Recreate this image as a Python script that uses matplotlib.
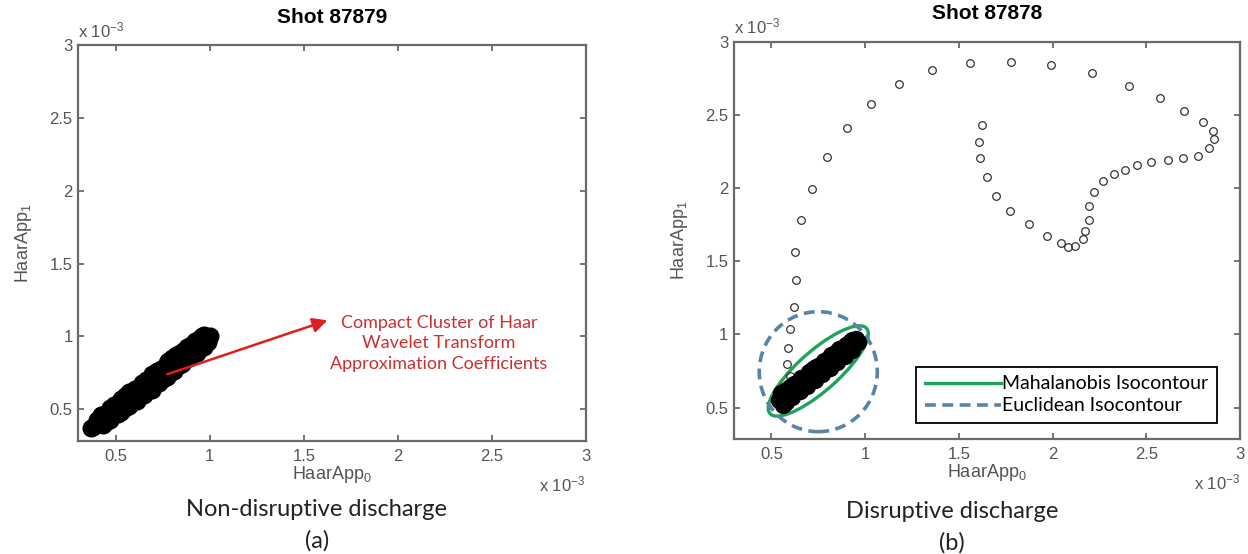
import matplotlib.pyplot as plt
from matplotlib.patches import Ellipse

# all coordinates are in units of 1e-3
ticks = [0.5, 1, 1.5, 2, 2.5, 3]
tick_labels = ['0.5', '1', '1.5', '2', '2.5', '3']

# shot 87879 (non-disruptive): compact cluster of Haar approximation coefficients
clu_a_x = [0.37, 0.38, 0.40, 0.42, 0.44, 0.46, 0.48, 0.50, 0.52, 0.54, 0.56, 0.58, 0.60, 0.62, 0.64, 0.66,
           0.68, 0.70, 0.72, 0.74, 0.76, 0.78, 0.80, 0.82, 0.84, 0.86, 0.88, 0.90, 0.92, 0.94, 0.96, 0.98, 1.00,
           0.40, 0.44, 0.47, 0.51, 0.55, 0.58, 0.62, 0.66, 0.70, 0.74, 0.78, 0.82, 0.86, 0.90, 0.94, 0.97,
           0.43, 0.47, 0.51, 0.55, 0.59, 0.63, 0.67, 0.71, 0.75, 0.79, 0.83, 0.87, 0.91, 0.95, 0.99,
           0.42, 0.49, 0.53, 0.57, 0.60, 0.64, 0.69, 0.72, 0.77, 0.80, 0.84, 0.88, 0.92, 0.96,
           0.45, 0.53, 0.57, 0.61, 0.65, 0.69, 0.73, 0.77, 0.81, 0.85, 0.89, 0.93, 0.97]
clu_a_y = [0.37, 0.38, 0.40, 0.41, 0.43, 0.45, 0.47, 0.49, 0.51, 0.53, 0.56, 0.58, 0.60, 0.62, 0.64, 0.66,
           0.67, 0.69, 0.71, 0.73, 0.76, 0.79, 0.81, 0.83, 0.85, 0.87, 0.89, 0.91, 0.93, 0.95, 0.97, 0.99, 1.00,
           0.43, 0.47, 0.51, 0.54, 0.59, 0.62, 0.65, 0.70, 0.73, 0.78, 0.83, 0.87, 0.90, 0.94, 0.98, 1.01,
           0.39, 0.43, 0.47, 0.51, 0.56, 0.59, 0.63, 0.67, 0.71, 0.75, 0.80, 0.84, 0.88, 0.92, 0.96,
           0.46, 0.53, 0.57, 0.62, 0.64, 0.68, 0.74, 0.76, 0.82, 0.85, 0.89, 0.93, 0.97, 1.00,
           0.41, 0.48, 0.52, 0.56, 0.60, 0.63, 0.68, 0.72, 0.76, 0.81, 0.85, 0.89, 0.93]

# shot 87878 (disruptive): cluster at the start of the discharge
clu_b_x = [0.54, 0.55, 0.57, 0.59, 0.61, 0.63, 0.65, 0.67, 0.69, 0.71, 0.73, 0.75, 0.77, 0.79, 0.81, 0.83,
           0.85, 0.87, 0.89, 0.91, 0.93, 0.95, 0.96,
           0.55, 0.58, 0.62, 0.66, 0.70, 0.74, 0.78, 0.82, 0.86, 0.90, 0.93,
           0.58, 0.61, 0.65, 0.69, 0.73, 0.77, 0.81, 0.85, 0.89, 0.93,
           0.56, 0.60, 0.64, 0.68, 0.72, 0.76, 0.80, 0.84, 0.88, 0.92, 0.95]
clu_b_y = [0.55, 0.57, 0.58, 0.60, 0.62, 0.64, 0.66, 0.68, 0.70, 0.72, 0.74, 0.76, 0.78, 0.80, 0.82, 0.84,
           0.86, 0.88, 0.90, 0.92, 0.93, 0.95, 0.95,
           0.60, 0.62, 0.66, 0.70, 0.74, 0.78, 0.82, 0.86, 0.90, 0.93, 0.96,
           0.54, 0.57, 0.61, 0.65, 0.69, 0.73, 0.77, 0.81, 0.85, 0.89,
           0.52, 0.64, 0.67, 0.71, 0.76, 0.79, 0.83, 0.87, 0.91, 0.95, 0.97]

# shot 87878: trajectory leaving the cluster
traj_x = [0.598, 0.585, 0.59, 0.60, 0.62, 0.63, 0.626, 0.658, 0.717, 0.796, 0.903, 1.033, 1.182, 1.357,
          1.562, 1.779, 1.99, 2.21, 2.406, 2.572, 2.70, 2.803, 2.854, 2.86, 2.833, 2.775, 2.696, 2.615,
          2.523, 2.449, 2.385, 2.329, 2.27, 2.223, 2.195, 2.193, 2.174, 2.161, 2.118, 2.082, 2.044, 1.969,
          1.873, 1.775, 1.698, 1.649, 1.613, 1.606, 1.626]
traj_y = [0.716, 0.80, 0.91, 1.038, 1.185, 1.37, 1.562, 1.778, 1.995, 2.212, 2.411, 2.573, 2.71, 2.806,
          2.852, 2.863, 2.838, 2.783, 2.70, 2.614, 2.525, 2.452, 2.39, 2.336, 2.272, 2.221, 2.203, 2.194,
          2.18, 2.158, 2.126, 2.094, 2.046, 1.973, 1.874, 1.779, 1.703, 1.653, 1.603, 1.60, 1.623, 1.674,
          1.756, 1.842, 1.945, 2.075, 2.205, 2.315, 2.429]

# isocontours: (center x, center y, width, height, angle)
mahal = (0.75, 0.75, 0.78, 0.24, 50)
eucl = (0.75, 0.745, 0.63, 0.82, 0)

gray = '#555555'
tick_font = 'Liberation Sans'
text_font = 'Lato'


def style_axes(ax):
    ax.set_xlim(0.3, 3)
    ax.set_ylim(0.285, 3)
    ax.set_xticks(ticks)
    ax.set_xticklabels(tick_labels)
    ax.set_yticks(ticks)
    ax.set_yticklabels(tick_labels)
    for s in ax.spines.values():
        s.set_color('#6a6a6a')
        s.set_linewidth(1.6)
    ax.tick_params(direction='in', length=4, width=1.3, color='#6a6a6a',
                   top=True, right=True, labelsize=12, labelcolor=gray)
    ax.tick_params(axis='x', pad=6)
    ax.tick_params(axis='y', pad=4)
    for lab in ax.get_xticklabels() + ax.get_yticklabels():
        lab.set_fontfamily(tick_font)
    ax.set_xlabel('HaarApp$_0$', fontsize=13, color=gray, family=tick_font, labelpad=0)
    ax.set_ylabel('HaarApp$_1$', fontsize=13, color=gray, family=tick_font, labelpad=11)
    # exponent labels as drawn by MATLAB
    ax.text(0.0, 1.012, 'x 10$^{-3}$', transform=ax.transAxes, fontsize=12,
            color=gray, family=tick_font, ha='left', va='bottom')
    ax.text(1.0, -0.085, 'x 10$^{-3}$', transform=ax.transAxes, fontsize=12,
            color=gray, family=tick_font, ha='right', va='top')


plt.rcParams['mathtext.fontset'] = 'custom'
plt.rcParams['mathtext.rm'] = tick_font
plt.rcParams['mathtext.it'] = tick_font

fig = plt.figure(figsize=(12.48, 5.54), dpi=100)
ax1 = fig.add_axes([0.0627, 0.2045, 0.4066, 0.7143])
ax2 = fig.add_axes([0.5881, 0.2076, 0.4054, 0.7172])

# (a) non-disruptive
ax1.plot(clu_a_x, clu_a_y, 'o', ms=11.5, mfc='black', mec='black', mew=1.5)
ax1.annotate('', xy=(1.64, 1.117), xytext=(0.76, 0.735),
             arrowprops=dict(arrowstyle='-|>', color='#e01e1e', lw=1.8, mutation_scale=22))
ax1.text(2.22, 0.955, 'Compact Cluster of Haar\nWavelet Transform\nApproximation Coefficients',
         ha='center', va='center', fontsize=13, color='#c9302f', family=text_font, linespacing=1.35)
ax1.set_title('Shot 87879', fontsize=15, fontweight='bold', family=tick_font, pad=16)
style_axes(ax1)

# (b) disruptive
ax2.plot(traj_x, traj_y, 'o', ms=5.5, mfc='none', mec='#333333', mew=0.9)
ax2.plot(clu_b_x, clu_b_y, 'o', ms=11, mfc='black', mec='black', mew=1.5)
m = Ellipse((mahal[0], mahal[1]), mahal[2], mahal[3], angle=mahal[4],
            fill=False, ec='#1fa35a', lw=2.4)
e = Ellipse((eucl[0], eucl[1]), eucl[2], eucl[3], angle=eucl[4],
            fill=False, ec='#5a84a6', lw=2.6, ls=(0, (3, 1.8)))
ax2.add_patch(m)
ax2.add_patch(e)
h1, = ax2.plot([], [], color='#1fa35a', lw=2.4)
h2, = ax2.plot([], [], color='#5a84a6', lw=2.6, ls=(0, (3, 1.8)))
leg = ax2.legend([h1, h2], ['Mahalanobis Isocontour', 'Euclidean Isocontour'],
                 loc='lower right', bbox_to_anchor=(0.9545, 0.04), borderaxespad=0,
                 prop={'family': text_font, 'size': 14}, handlelength=3.9, handletextpad=0.05,
                 fancybox=False, framealpha=1, edgecolor='black', borderpad=0.45, labelspacing=0.25)
leg.get_frame().set_linewidth(1.3)
ax2.set_title('Shot 87878', fontsize=15, fontweight='bold', family=tick_font, pad=16)
style_axes(ax2)

# captions
fig.text(317 / 1248, 1 - 510 / 554, 'Non-disruptive discharge', ha='center', va='center',
         fontsize=17, family=text_font, color='#222222')
fig.text(317 / 1248, 1 - 541 / 554, '(a)', ha='center', va='center',
         fontsize=17, family=text_font, color='#222222')
fig.text(952 / 1248, 1 - 512 / 554, 'Disruptive discharge', ha='center', va='center',
         fontsize=17, family=text_font, color='#222222')
fig.text(952 / 1248, 1 - 543 / 554, '(b)', ha='center', va='center',
         fontsize=17, family=text_font, color='#222222')

fig.savefig('out.png', dpi=100, facecolor='white')
